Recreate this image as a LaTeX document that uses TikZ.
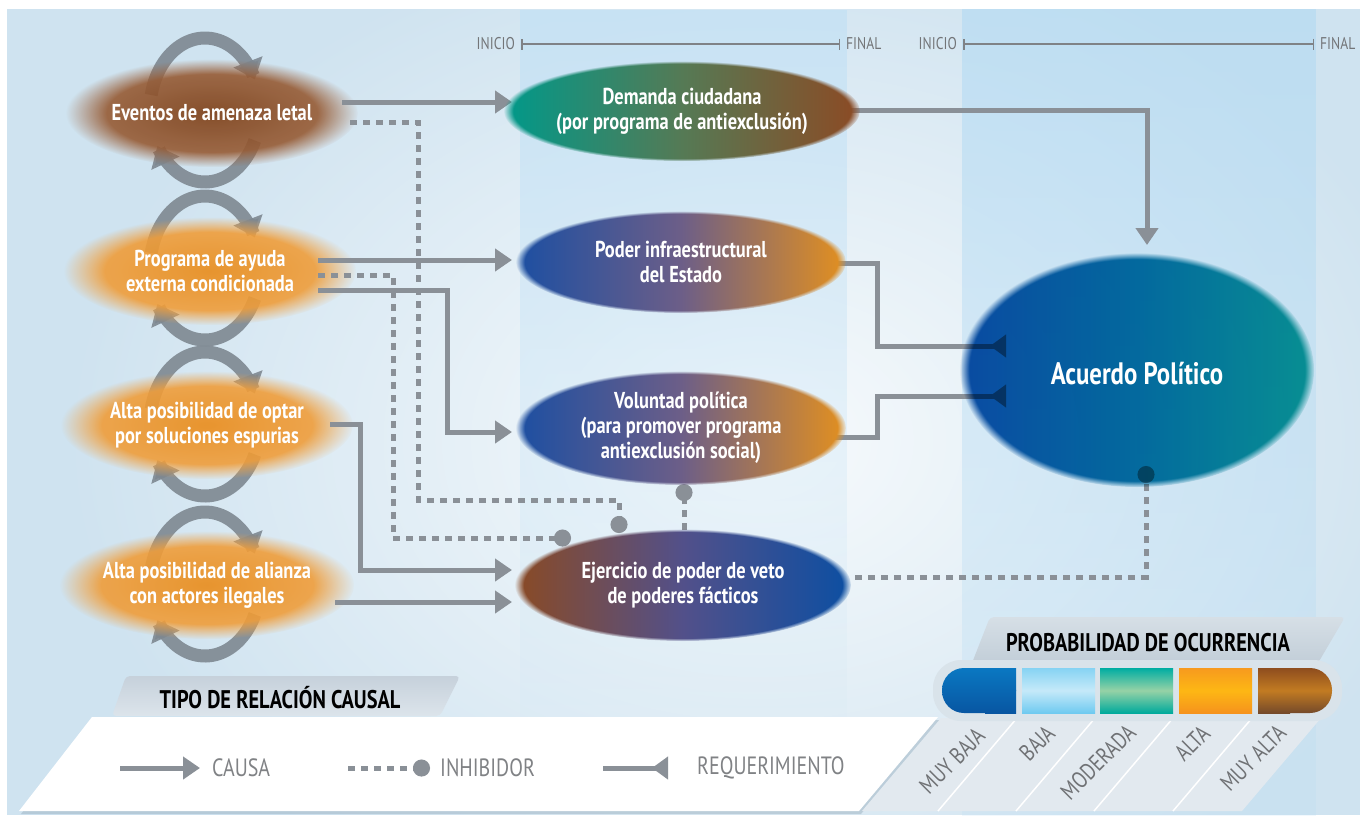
\documentclass[tikz,border=0pt]{standalone}
\usepackage{fontspec}
\setmainfont[FakeStretch=0.8]{PT Sans}
\usetikzlibrary{arrows.meta,shapes.geometric,fadings}
\newcommand\mydc[1]{\definecolor{HTML#1}{HTML}{#1}}
\definecolor{conn}{HTML}{8A9097}
\definecolor{ringc}{HTML}{7E8891}
\definecolor{lgray}{HTML}{737578}
\definecolor{legtxt}{HTML}{808285}
\definecolor{bgblue}{HTML}{CFE3F0}
\definecolor{colA}{HTML}{BFE0F5}
\definecolor{colB}{HTML}{B2DAF3}
\definecolor{fadeA}{gray}{0.85}
\mydc{7E3F16}\mydc{A06640}\mydc{EA8C1A}\mydc{F1A447}\mydc{7F8286}\mydc{707275}
\mydc{00998A}\mydc{8C4A24}\mydc{557A55}\mydc{1C4FA2}\mydc{E3901F}\mydc{6C5E88}
\mydc{8A4A24}\mydc{0C4FA2}\mydc{52508A}\mydc{0C52A8}\mydc{0AA29A}\mydc{0576A6}
\mydc{C6D1DB}\mydc{DCE4EB}\mydc{9DB2C1}\mydc{D6DFE6}\mydc{C2CED8}\mydc{E2E9EF}
\mydc{D9E3EA}\mydc{0A78C2}\mydc{0856A2}\mydc{86D3F3}\mydc{6FCAF0}\mydc{C5E9F9}
\mydc{00ADA2}\mydc{00AA9C}\mydc{96D2A6}\mydc{F79A1E}\mydc{F6931D}\mydc{FDB714}
\mydc{8E4D1E}\mydc{754A2A}\mydc{C27B22}
\pgfdeclareradialshading{sharpfadeshade}{\pgfpointorigin}{color(0bp)=(white); color(23.6bp)=(white); color(25bp)=(black); color(50bp)=(black)}
\pgfdeclarefading{sharpfade}{\pgfuseshading{sharpfadeshade}}
\pgfdeclareradialshading{softfadeshade}{\pgfpointorigin}{color(0bp)=(white); color(18bp)=(white); color(25bp)=(black); color(50bp)=(black)}
\pgfdeclarefading{softfade}{\pgfuseshading{softfadeshade}}
\pgfdeclareradialshading{glowshade}{\pgfpointorigin}{color(0bp)=(fadeA); color(25bp)=(black); color(50bp)=(black)}
\pgfdeclarefading{glowfade}{\pgfuseshading{glowshade}}
\tikzfading[name=fadedown, top color=transparent!0, bottom color=transparent!100]
\pgfdeclarelayer{bg}
\pgfdeclarelayer{rings}
\pgfdeclarelayer{left}
\pgfdeclarelayer{conn}
\pgfsetlayers{bg,rings,left,conn,main}
\begin{document}
\begin{tikzpicture}[x=1pt,y=-1pt,
  causa/.style={draw=conn, line width=5pt, -{Triangle[width=22pt,length=17pt]}},
  inhib/.style={draw=conn, line width=5pt, dash pattern=on 7pt off 6pt, -{Circle[length=17pt]}},
  req/.style={draw=conn, line width=5pt, -{Triangle[reversed,width=22pt,length=16pt]}},
  ring/.style={draw=ringc, line width=13pt, draw opacity=0.9, -{Triangle[width=30pt,length=19pt]}},
  blobtext/.style={text=white, font=\bfseries\fontsize{23}{25}\selectfont, align=center},
  leftblob/.style={ellipse, inner sep=0pt, minimum width=292pt, minimum height=108pt, path fading=softfade, fill opacity=0.9, text opacity=1, blobtext},
  brownblob/.style={leftblob, inner color=HTML7E3F16, outer color=HTMLA06640},
  orangeblob/.style={leftblob, inner color=HTMLEA8C1A, outer color=HTMLF1A447},
  midblob/.style={ellipse, inner sep=0pt, path fading=sharpfade, blobtext},
  tl/.style={font=\fontsize{17}{17}\selectfont, text=lgray, inner xsep=6pt, inner ysep=0pt},
  tline/.style={draw=HTML7F8286, line width=1.5pt, {Bar[width=11pt]}-{Bar[width=11pt]}},
  legtext/.style={font=\fontsize{25}{25}\selectfont, text=legtxt, inner sep=0pt},
  problabel/.style={font=\fontsize{23.5}{24}\selectfont, text=HTML707275, inner sep=0pt},
  tabtext/.style={font=\bfseries\fontsize{25.5}{26}\selectfont, text=black, inner sep=0pt}
]
\useasboundingbox (0,0) rectangle (1360,815);
\begin{pgfonlayer}{bg}
  \fill[white] (0,0) rectangle (1360,815);
  \fill[bgblue] (7,9) rectangle (1360,815);
  \fill[white, path fading=glowfade] (760,440) ellipse [x radius=700, y radius=520];
  \fill[colA, fill opacity=0.6, path fading=fadedown] (520,9) rectangle (847,780);
  \fill[colB, fill opacity=0.6, path fading=fadedown] (962,9) rectangle (1316,1150);
  \node[tl, anchor=east] (ini1) at (521,44) {INICIO};
  \node[tl, anchor=west] (fin1) at (840,44) {FINAL};
  \draw[tline] (ini1.east) -- (fin1.west);
  \node[tl, anchor=east] (ini2) at (963,44) {INICIO};
  \node[tl, anchor=west] (fin2) at (1314,44) {FINAL};
  \draw[tline] (ini2.east) -- (fin2.west);
\end{pgfonlayer}
\begin{pgfonlayer}{rings}
  \foreach \cx/\cy in {205/110, 205/268, 205/424, 205/584}{
    \draw[ring] plot[domain=192:335, samples=40] ({\cx+55*cos(\x)},{\cy+72*sin(\x)});
    \draw[ring] plot[domain=25:150, samples=40] ({\cx+55*cos(\x)},{\cy+72*sin(\x)});
  }
\end{pgfonlayer}
\begin{pgfonlayer}{left}
  \node[brownblob] (eventos) at (212,113) {Eventos de amenaza letal};
  \node[orangeblob] (programa) at (210,271) {Programa de ayuda\\externa condicionada};
  \node[orangeblob] (optar) at (207,425) {Alta posibilidad de optar\\por soluciones espurias};
  \node[orangeblob] (alianza) at (207,585) {Alta posibilidad de alianza\\con actores ilegales};
\end{pgfonlayer}
% middle column
\node[midblob, minimum width=334pt, minimum height=100pt, left color=HTML00998A, right color=HTML8C4A24, middle color=HTML557A55] (demanda) at (682,111) {Demanda ciudadana\\(por programa de antiexclusión)};
\node[midblob, minimum width=330pt, minimum height=102pt, left color=HTML1C4FA2, right color=HTMLE3901F, middle color=HTML6C5E88] (poder) at (681,262) {Poder infraestructural\\del Estado};
\node[midblob, minimum width=330pt, minimum height=114pt, left color=HTML1C4FA2, right color=HTMLE3901F, middle color=HTML6C5E88] (voluntad) at (681,428) {Voluntad política\\(para promover programa\\antiexclusión social)};
\node[midblob, minimum width=336pt, minimum height=112pt, left color=HTML8A4A24, right color=HTML0C4FA2, middle color=HTML52508A] (ejercicio) at (683,585) {Ejercicio de poder de veto\\de poderes fácticos};
\node[midblob, minimum width=354pt, minimum height=234pt, blend mode=multiply, left color=HTML0C52A8, right color=HTML0AA29A, middle color=HTML0576A6] (acuerdo) at (1137,370) {};
\node[text=white, font=\bfseries\fontsize{31}{33}\selectfont] (acuerdoT) at ([shift={(0,4)}]acuerdo.center) {Acuerdo Político};
% connectors
\begin{pgfonlayer}{conn}
  \draw[causa] ([shift={(130,-11)}]eventos.center) -- ([shift={(-170,-9)}]demanda.center);
  \draw[inhib] ([shift={(138,9)}]eventos.center) -| (418,500) -| ([shift={(-64,-52)}]ejercicio.center);
  \draw[inhib] ([shift={(108,4)}]programa.center) -| (393,538) -- ([shift={(-112,-47)}]ejercicio.center);
  \draw[causa] ([shift={(108,-11)}]programa.center) -- ([shift={(-169,-2)}]poder.center);
  \draw[causa] ([shift={(108,19)}]programa.center) -| (447,432) -- ([shift={(-169,4)}]voluntad.center);
  \draw[causa] ([shift={(123,-1)}]optar.center) -| (360,570) -- ([shift={(-171,-15)}]ejercicio.center);
  \draw[causa] ([shift={(128,17)}]alianza.center) -- ([shift={(-171,17)}]ejercicio.center);
  \draw[inhib] ([shift={(1,-55)}]ejercicio.center) -- ([shift={(3,56)}]voluntad.center);
  \draw[causa] ([shift={(156,-1)}]demanda.center) -| ([shift={(10,-125)}]acuerdo.center);
  \draw[req] ([shift={(142,1)}]poder.center) -| (877,346) -- ([shift={(-131,-24)}]acuerdo.center);
  \draw[req] ([shift={(142,9)}]voluntad.center) -| (877,396) -- ([shift={(-131,26)}]acuerdo.center);
  \draw[inhib] ([shift={(172,-8)}]ejercicio.center) -| ([shift={(9,96)}]acuerdo.center);
\end{pgfonlayer}
% legend: tipo de relacion causal
\shade[top color=HTMLC6D1DB, bottom color=HTMLDCE4EB, rounded corners=4pt] (112,716) -- (126,676) -- (460,676) -- (440,716) -- cycle;
\node[tabtext] (tipoT) at (280,698) {TIPO DE RELACIÓN CAUSAL};
\fill[HTML9DB2C1, opacity=0.5] (21,814) -- (94,720) -- (940,720) -- (861,814) -- cycle;
\fill[white] (19,811) -- (92,717) -- (938,717) -- (859,811) -- cycle;
\coordinate (lcA) at (120,768);
\node[legtext, anchor=west] (causaT) at (212,768) {CAUSA};
\draw[causa] (lcA) -- ([xshift=-12pt]causaT.west);
\coordinate (lcB) at (348,768);
\node[legtext, anchor=west] (inhT) at (440,768) {INHIBIDOR};
\draw[inhib] (lcB) -- ([xshift=-10pt]inhT.west);
\coordinate (lcC) at (603,768);
\node[legtext, anchor=west] (reqT) at (697,768) {REQUERIMIENTO};
\draw[req] (lcC) -- ([xshift=-29pt]reqT.west);
% legend: probabilidad
\shade[top color=HTMLD6DFE6, bottom color=HTMLC2CED8, rounded corners=4pt] (972,663) -- (990,617) -- (1345,617) -- (1318,663) -- cycle;
\node[tabtext] (probT) at (1148,643) {PROBABILIDAD DE OCURRENCIA};
\fill[HTMLE2E9EF] (941,718) -- (1321,718) -- (1242,811) -- (862,811) -- cycle;
\foreach \sx in {1017,1095,1173,1252}{
  \draw[white, line width=1.5pt] (\sx,718) -- ({\sx-79},811);
}
\fill[HTMLD9E3EA, rounded corners=28pt] (933,660) rectangle (1342,721);
\shade[top color=HTML0A78C2, bottom color=HTML0856A2, rounded corners=22pt] (942,668) rectangle (1016,713);
\shade[top color=HTML0A78C2, bottom color=HTML0856A2] (985,668) rectangle (1016,713);
\shade[top color=HTML86D3F3, bottom color=HTML6FCAF0, middle color=HTMLC5E9F9] (1022,668) rectangle (1095,713);
\shade[top color=HTML00ADA2, bottom color=HTML00AA9C, middle color=HTML96D2A6] (1100,668) rectangle (1173,713);
\shade[top color=HTMLF79A1E, bottom color=HTMLF6931D, middle color=HTMLFDB714] (1179,668) rectangle (1252,713);
\shade[top color=HTML8E4D1E, bottom color=HTML754A2A, middle color=HTMLC27B22, rounded corners=22pt] (1258,668) rectangle (1332,713);
\shade[top color=HTML8E4D1E, bottom color=HTML754A2A, middle color=HTMLC27B22] (1258,668) rectangle (1290,713);
\node[problabel, rotate=45] (pl1) at (952,761) {MUY BAJA};
\node[problabel, rotate=45] (pl2) at (1037,743) {BAJA};
\node[problabel, rotate=45] (pl3) at (1098,762) {MODERADA};
\node[problabel, rotate=45] (pl4) at (1192,743) {ALTA};
\node[problabel, rotate=45] (pl5) at (1253,758) {MUY ALTA};
\end{tikzpicture}
\end{document}
